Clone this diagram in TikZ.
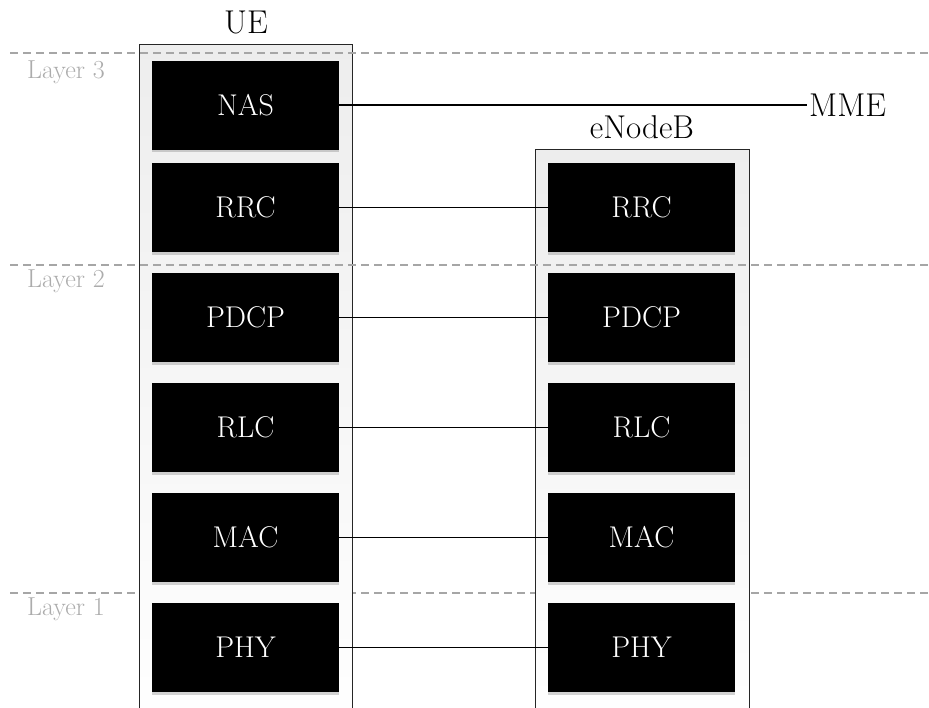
\documentclass[tikz,border=0pt]{standalone}
\usepackage{fontspec}
\usetikzlibrary{shadows}

\tikzset{
  x=1pt, y=-1pt,
  layerline/.style={draw=gray!70, line width=1.3pt, dash pattern=on 8pt off 5pt},
  layerlabel/.style={text=gray!65, anchor=west, inner sep=0pt,
    font=\fontsize{26}{30}\selectfont},
  container/.style={draw=black!85, line width=1.3pt, anchor=north west,
    top color=gray!14, bottom color=white, inner sep=0pt},
  title/.style={inner sep=0pt, font=\fontsize{33}{38}\selectfont},
  protobox/.style={fill=black, text=white, minimum width=187pt, minimum height=89pt,
    inner sep=0pt, font=\fontsize{30}{35}\selectfont,
    drop shadow={shadow xshift=0pt, shadow yshift=-2.5pt, opacity=0.35}},
  link/.style={draw=black, line width=1.5pt},
}

\begin{document}
\begin{tikzpicture}
  \useasboundingbox (0,0) rectangle (929,707);
  \begin{scope}
    \clip (0,0) rectangle (929,707);

    % Layer 1 boundary runs behind the two stacks
    \draw[layerline] (10,593) -- (929,593);

    % protocol stacks
    \node[container, minimum width=213pt, minimum height=690pt] (ue) at (139,44) {};
    \node[container, minimum width=214pt, minimum height=585pt] (enb) at (535,149) {};

    % Layer 3 / Layer 2 boundaries
    \draw[layerline] (10,53) -- (929,53);
    \draw[layerline] (10,265) -- (929,265);
  \end{scope}

  \node[layerlabel] (l3) at (27,72) {Layer 3};
  \node[layerlabel] (l2) at (27,281) {Layer 2};
  \node[layerlabel] (l1) at (27,609) {Layer 1};

  \node[title] (uetitle) at (246,22) {UE};
  \node[title] (enbtitle) at (642,127) {eNodeB};

  % UE layers
  \node[protobox] (uenas)  at (245.5,105)   {NAS};
  \node[protobox] (uerrc)  at (245.5,207.5) {RRC};
  \node[protobox] (uepdcp) at (245.5,317.5) {PDCP};
  \node[protobox] (uerlc)  at (245.5,427.5) {RLC};
  \node[protobox] (uemac)  at (245.5,537.5) {MAC};
  \node[protobox] (uephy)  at (245.5,647.5) {PHY};

  % eNodeB layers
  \node[protobox] (enbrrc)  at (641.5,207.5) {RRC};
  \node[protobox] (enbpdcp) at (641.5,317.5) {PDCP};
  \node[protobox] (enbrlc)  at (641.5,427.5) {RLC};
  \node[protobox] (enbmac)  at (641.5,537.5) {MAC};
  \node[protobox] (enbphy)  at (641.5,647.5) {PHY};

  \node[title, anchor=west, inner sep=2pt] (mme) at (807,105) {MME};

  % peer links
  \draw[link] (uenas.east) -- (mme.west);
  \draw[link] (uerrc) -- (enbrrc);
  \draw[link] (uepdcp) -- (enbpdcp);
  \draw[link] (uerlc) -- (enbrlc);
  \draw[link] (uemac) -- (enbmac);
  \draw[link] (uephy) -- (enbphy);
\end{tikzpicture}
\end{document}
